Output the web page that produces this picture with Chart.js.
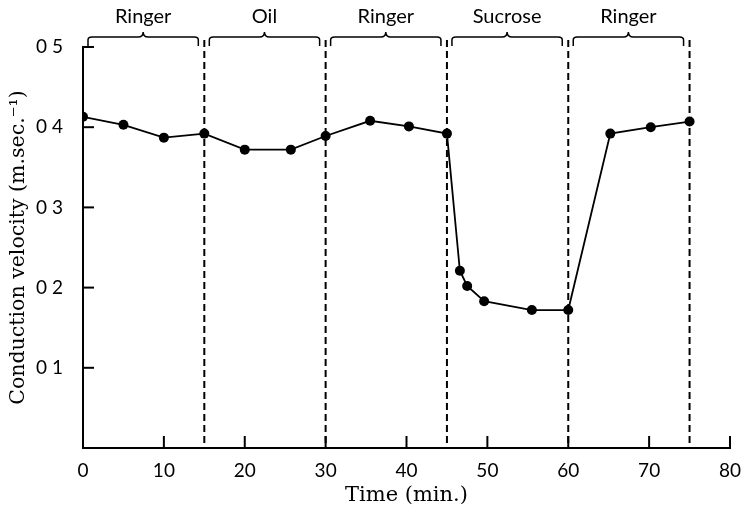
<!DOCTYPE html>
<html>
<head>
<meta charset="utf-8">
<script src="https://cdn.jsdelivr.net/npm/chart.js@4"></script>
<style>
  html, body { margin: 0; padding: 0; background: #fff; }
  .chart_box { width: 742px; height: 512px; position: relative; }
</style>
</head>
<body>
<div class="chart_box"><canvas id="myChart"></canvas></div>
<script>
// данные графика
const times = [0, 5, 10, 15, 20, 25.7, 30, 35.5, 40.3, 45, 46.6, 47.5, 49.6, 55.5, 60, 65.2, 70.2, 75];
const velocities = [0.413, 0.403, 0.387, 0.392, 0.372, 0.372, 0.389, 0.408, 0.401, 0.392, 0.221, 0.202, 0.183, 0.172, 0.172, 0.392, 0.4, 0.407];
const boundaries = [15, 30, 45, 60, 75];
const periodStarts = [0, 15, 30, 45, 60];
const periodEnds = [15, 30, 45, 60, 75];
const periodNames = ["Ringer", "Oil", "Ringer", "Sucrose", "Ringer"];
const xTicks = [0, 10, 20, 30, 40, 50, 60, 70, 80];
const yTicks = [0.1, 0.2, 0.3, 0.4, 0.5];

const sansFont = "Lato";
const serifFont = "DejaVu Serif";

// плагин: пунктир, скобки, засечки внутрь
const extras = {
  id: "extras",
  afterDraw(chart) {
    const ctx = chart.ctx;
    const x = chart.scales.x;
    const y = chart.scales.y;
    const area = chart.chartArea;
    ctx.save();
    ctx.strokeStyle = "#000";
    ctx.fillStyle = "#000";

    // засечки
    ctx.lineWidth = 2;
    yTicks.forEach((v) => {
      const py = y.getPixelForValue(v);
      ctx.beginPath();
      ctx.moveTo(area.left, py);
      ctx.lineTo(area.left + 11, py);
      ctx.stroke();
    });
    xTicks.slice(1).forEach((v) => {
      const px = x.getPixelForValue(v);
      ctx.beginPath();
      ctx.moveTo(px, area.bottom);
      ctx.lineTo(px, area.bottom - 12);
      ctx.stroke();
    });

    // пунктирные границы
    ctx.setLineDash([7, 4]);
    ctx.lineWidth = 2;
    boundaries.forEach((v) => {
      const px = x.getPixelForValue(v);
      ctx.beginPath();
      ctx.moveTo(px, 40);
      ctx.lineTo(px, area.bottom);
      ctx.stroke();
    });
    ctx.setLineDash([]);

    // фигурные скобки и подписи
    ctx.lineWidth = 1.5;
    ctx.font = "20px " + sansFont;
    ctx.textAlign = "center";
    ctx.textBaseline = "middle";
    periodNames.forEach((name, i) => {
      const x0 = x.getPixelForValue(periodStarts[i]) + 5;
      const x1 = x.getPixelForValue(periodEnds[i]) - 6;
      const mid = (x0 + x1) / 2;
      ctx.beginPath();
      ctx.moveTo(x0, 46);
      ctx.lineTo(x0, 40);
      ctx.quadraticCurveTo(x0, 37, x0 + 4, 37);
      ctx.lineTo(mid - 5, 37);
      ctx.quadraticCurveTo(mid, 37, mid, 32);
      ctx.quadraticCurveTo(mid, 37, mid + 5, 37);
      ctx.lineTo(x1 - 4, 37);
      ctx.quadraticCurveTo(x1, 37, x1, 40);
      ctx.lineTo(x1, 46);
      ctx.stroke();
      ctx.fillText(name, mid, 17);
    });
    ctx.restore();
  },
};

const ctx = document.getElementById("myChart").getContext("2d");
new Chart(ctx, {
  type: "scatter",
  plugins: [extras],
  data: {
    datasets: [
      {
        data: times.map((t, i) => ({ x: t, y: velocities[i] })),
        showLine: true,
        borderColor: "#000",
        borderWidth: 1.8,
        backgroundColor: "#000",
        pointRadius: 5,
        pointBorderWidth: 0,
      },
    ],
  },
  options: {
    responsive: true,
    maintainAspectRatio: false,
    animation: false,
    layout: { padding: { top: 47, right: 12, left: 0, bottom: 0 } },
    plugins: {
      legend: { display: false },
      tooltip: { enabled: false },
    },
    scales: {
      x: {
        type: "linear",
        min: 0,
        max: 80,
        afterBuildTicks: (scale) => {
          scale.ticks = xTicks.map((v) => ({ value: v }));
        },
        afterFit: (scale) => {
          scale.height = 64;
          scale.paddingLeft = 0;
          scale.paddingRight = 0;
        },
        ticks: {
          color: "#000",
          padding: 3,
          font: { family: sansFont, size: 19 },
        },
        grid: { display: false },
        border: { display: true, color: "#000", width: 2 },
        title: {
          display: true,
          text: "Time (min.)",
          color: "#000",
          padding: { top: 0, bottom: 4 },
          font: { family: serifFont, size: 21 },
        },
      },
      y: {
        type: "linear",
        min: 0,
        max: 0.5,
        afterBuildTicks: (scale) => {
          scale.ticks = yTicks.map((v) => ({ value: v }));
        },
        afterFit: (scale) => {
          scale.width = 83;
        },
        ticks: {
          color: "#000",
          padding: 12,
          font: { family: sansFont, size: 19 },
          callback: function (value) {
            return value.toFixed(1).replace(".", " ");
          },
        },
        grid: { display: false },
        border: { display: true, color: "#000", width: 2 },
        title: {
          display: true,
          text: "Conduction velocity (m.sec.\u207B\u00B9)",
          color: "#000",
          padding: { top: 6, bottom: 0 },
          font: { family: serifFont, size: 20.5 },
        },
      },
    },
  },
});
</script>
</body>
</html>
